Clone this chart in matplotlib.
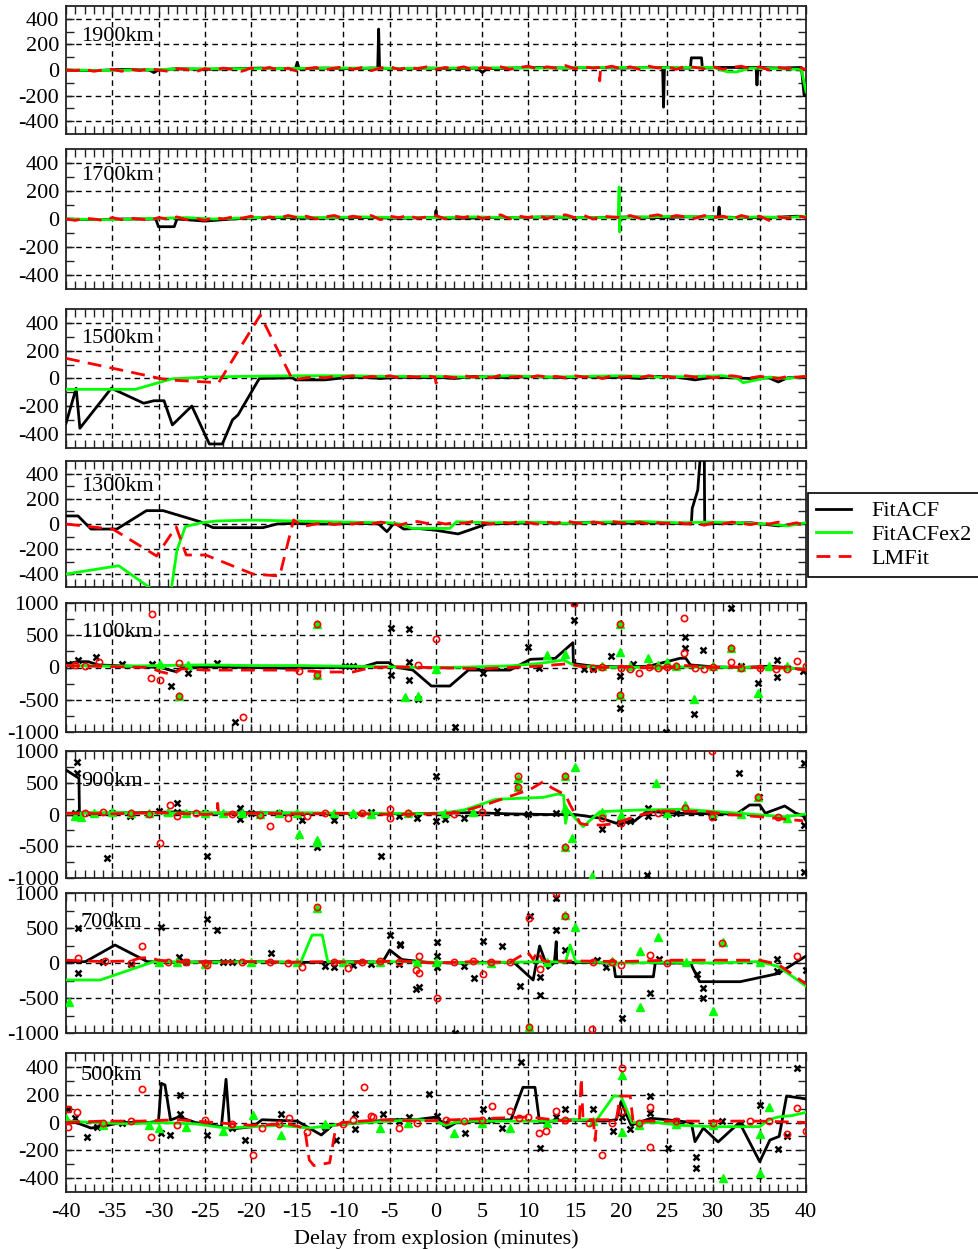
import numpy as np
import matplotlib
matplotlib.use("Agg")
import matplotlib.pyplot as plt
from matplotlib.lines import Line2D

plt.rcParams['font.family'] = ['Liberation Serif', 'DejaVu Serif']
plt.rcParams['axes.unicode_minus'] = False

# ---------------- data ----------------
RANGES = ["1900km", "1700km", "1500km", "1300km", "1100km", "900km", "700km", "500km"]
YLIMS = [500, 500, 500, 500, 1000, 1000, 1000, 500]
XTICKS = [-40, -35, -30, -25, -20, -15, -10, -5, 0, 5, 10, 15, 20, 25, 30, 35, 40]

# 1900 km
ACF1_X = [-40, -37, -34, -31, -30.5, -30, -28, -25, -22, -19, -16, -15.2, -15, -14.8, -12, -9, -7, -6.3, -6.2, -6.1, -4, -1, 2, 4.5, 5, 5.5, 8, 11, 14, 17, 20, 23, 24.5, 24.6, 24.7, 26, 27.5, 27.6, 28.7, 28.8, 31, 34.6, 34.7, 34.8, 37, 39.5, 39.8, 40]
ACF1_Y = [0, -5, 5, 0, -20, 0, 10, 5, 10, 15, 10, 10, 60, 10, 15, 10, 15, 15, 320, 15, 10, 15, 10, 15, -20, 10, 15, 20, 15, 20, 15, 20, 20, -290, 20, 15, 15, 95, 95, 15, 20, 20, -117, 20, 15, 20, -200, -200]
EX1_X = [-40, -36, -32, -28, -24, -20, -16, -12, -8, -4, 0, 4, 8, 12, 16, 20, 24, 28, 30, 31.5, 32.5, 34, 37, 39.5, 40]
EX1_Y = [0, -3, 0, 8, 10, 10, 12, 15, 15, 12, 15, 15, 18, 15, 20, 20, 18, 20, 20, -15, -15, 15, 10, 5, -170]
LM1_X = [-40, -39, -38, -37, -36, -35, -34, -33, -32, -31, -30, -29, -28, -27, -26, -25, -24, -23, -22, -21, -20, -19, -18, -17, -16, -15, -14, -13, -12, -11, -10, -9, -8, -7, -6, -5, -4, -3, -2, -1, 0, 1, 2, 3, 4, 5, 6, 7, 8, 9, 10, 11, 12, 13, 14, 15, 16, 17, 17.6, 17.7, 17.8, 18, 19, 20, 21, 22, 23, 24, 25, 26, 27, 28, 29, 30, 31, 32, 33, 34, 35, 36, 37, 38, 39, 40]
LM1_Y = [0, -5, 5, -10, 0, 5, -10, 5, -5, 10, 0, -10, 10, 5, -15, 10, 0, 15, 5, -10, 15, 5, 20, 0, 15, -10, 10, 20, 0, 15, 25, 5, 20, -5, 15, 25, 5, 20, 10, 25, 5, 20, 10, 25, 0, 20, 10, 25, 5, 20, 30, 5, 25, 15, 35, 10, 25, 15, 20, -85, 20, 15, 30, 10, 25, 5, 30, 15, 25, 5, 30, 20, 10, 25, 5, 20, 30, 10, 25, 0, 20, 10, 25, 5]

# 1700 km
ACF2_X = [-40, -37, -34, -31, -30.3, -30, -28.3, -28, -26, -25, -24, -22, -19, -16, -13, -10, -7, -4, -1, -0.1, 0, 0.1, 3, 6, 9, 12, 15, 18, 21, 24, 27, 30.5, 30.6, 30.7, 33, 36, 39, 40]
ACF2_Y = [0, -5, 0, 0, 0, -55, -55, 0, -10, -15, -10, 0, 10, 10, 5, 10, 10, 5, 10, 10, 60, 10, 5, 10, 10, 15, 10, 10, 15, 10, 15, 15, 85, 15, 10, 10, 20, 15]
EX2_X = [-40, -35, -30, -27, -24, -20, -16, -12, -8, -4, 0, 4, 8, 12, 16, 19.7, 19.8, 19.85, 19.9, 23, 26, 29, 32, 35, 38, 40]
EX2_Y = [0, -5, 5, 10, 0, 10, 15, 10, 15, 10, 10, 15, 10, 15, 10, 10, 228, -93, 10, 15, 20, 15, 10, 15, 10, 20]
LM2_X = [-40, -39, -38, -37, -36, -35, -34, -33, -32, -31, -30, -29, -28, -27, -26, -25, -24, -23, -22, -21, -20, -19, -18, -17, -16, -15, -14, -13, -12, -11, -10, -9, -8, -7, -6, -5, -4, -3, -2, -1, 0, 1, 2, 3, 4, 5, 6, 7, 8, 9, 10, 11, 12, 13, 14, 15, 16, 17, 18, 19, 20, 21, 22, 23, 24, 25, 26, 27, 28, 29, 30, 31, 32, 33, 34, 35, 36, 37, 38, 39, 40]
LM2_Y = [0, -10, 5, 0, -10, 10, -5, 5, 0, -10, 10, 0, 15, -5, 5, -10, 10, 0, 15, 5, 20, 0, 15, 5, 25, 10, 20, 0, 15, 25, 5, 20, 10, 25, -5, 20, 10, 25, 5, 15, 25, 0, 20, 10, 25, 5, 15, 30, 0, 20, 10, 25, 5, 20, 30, 10, 25, 0, 20, 15, 10, 25, 5, 20, 30, 10, 25, 15, 5, 25, 10, 20, 0, 25, 10, 20, -10, 15, 5, 25, 10]

# 1500 km
ACF3_X = [-40, -38.9, -38.5, -35.1, -31.6, -30.5, -29.4, -28.5, -26.4, -24.5, -23.1, -22.0, -21.4, -19.1, -15.5, -15.2, -12, -10, -8, -6, -4, -2, 0, 2, 4, 6, 8, 10, 12, 14, 16, 18, 20, 22, 24, 26, 28, 30, 32, 34, 36, 37, 38, 40]
ACF3_Y = [-322, -70, -358, -70, -178, -160, -160, -334, -198, -471, -471, -298, -262, 0, 5, -10, -10, 5, 10, 0, 10, 5, 10, 0, 15, 10, 5, 15, 10, 5, 15, 5, 10, 0, 15, 10, -10, 10, 5, 0, 5, -25, 5, 10]
EX3_X = [-40, -32.5, -28.6, -25, -21, -15, -10, -5, 0, 4, 8, 12, 16, 20, 24, 28, 31, 32.5, 33.2, 34, 36, 38, 40]
EX3_Y = [-78, -78, -3, 10, 15, 20, 20, 15, 15, 10, 20, 10, 15, 20, 10, 15, 20, 5, -30, -20, 10, 0, 15]
LM3_X = [-40, -34.9, -29.8, -28.5, -23.5, -19.0, -15.5, -14, -13, -12, -11, -10, -9, -8, -7, -6, -5, -4, -3, -2, -1, -0.1, 0, 0.5, 1, 2, 3, 4, 5, 6, 7, 8, 9, 10, 11, 12, 13, 14, 15, 16, 17, 18, 19, 20, 21, 22, 23, 24, 25, 26, 27, 28, 29, 30, 31, 32, 33, 34, 35, 36, 37, 38, 39, 40]
LM3_Y = [145, 73, 0, -12, -30, 456, -10, 5, 10, 5, 15, 10, 20, 5, 15, 10, 20, 5, 15, 10, 20, 10, -33, 5, 15, 5, 20, 10, 15, 5, 25, 10, 15, 5, 20, 10, 15, 5, 20, 10, 15, 0, 20, 10, 15, 5, 20, 10, 15, 5, 20, 10, 15, 5, 15, 20, 10, 5, 15, 10, 0, 15, 10, 15]

# 1300 km
ACF4_X = [-40, -38.7, -37.3, -34.5, -31.3, -29.5, -25.5, -24.1, -18.7, -17.2, -15.4, -12, -8, -6.2, -5.3, -4.5, -3.5, -2, 0, 2.4, 5.5, 8, 11, 14, 17, 20, 23, 26, 27.6, 27.7, 28.3, 28.6, 29.0, 29.05, 31, 34, 37, 40]
ACF4_Y = [64, 64, -40, -40, 106, 106, 18, -29, -29, 0, 5, 0, 5, 0, -61, 10, -40, -35, -50, -79, 0, 5, 10, 5, 15, 5, 10, 5, 0, 124, 270, 560, 560, 0, 5, 10, -15, 5]
EX4_X = [-40, -34.3, -29.9, -28.7, -28.0, -27.1, -25.5, -23.7, -19.8, -15.4, -10, -5, -3.9, -2.6, 1.5, 2.2, 6, 10, 14, 18, 22, 26, 30, 34, 36, 38, 40]
EX4_Y = [-397, -331, -560, -560, -206, -21, 8, 24, 31, 24, 15, 10, 0, -35, -35, 18, 10, 15, 5, 15, 20, 10, 15, 5, 0, -15, 10]
LM4_X = [-40, -34.9, -30.2, -28.1, -27, -24.9, -19.8, -16.9, -15.4, -14.4, -13, -12, -11, -10, -9, -8, -7, -6, -5, -4, -3, -2, -1, 0, 1, 2, 3, 4, 5, 6, 7, 8, 9, 10, 11, 12, 13, 14, 15, 16, 17, 18, 19, 20, 21, 22, 23, 24, 25, 26, 27, 28, 29, 30, 31, 32, 33, 34, 35, 36, 37, 38, 39, 40]
LM4_Y = [0, -42, -254, -21, -246, -246, -397, -413, 32, -20, 0, 10, -5, 5, 0, 10, 0, 15, 5, -10, 10, 20, 5, 15, 0, 10, 5, 20, 10, 0, 15, 5, 20, 10, 0, 15, 5, 25, 10, 0, 15, 5, 20, 10, 5, 15, 0, 10, 5, 15, 0, 10, -10, 10, 0, 15, 5, -5, 10, 0, 15, -5, 10, -20]

# 1100 km
ACF5_X = [-40, -38.8, -37.6, -36.5, -33, -29.8, -28.1, -27.4, -24, -20, -16, -12, -8, -6.4, -5.1, -4.5, -2.5, -0.5, 1.5, 3.5, 8, 10.2, 12.9, 14.8, 14.85, 17, 20, 23, 26.4, 27, 27.5, 30, 33, 36, 38, 40]
ACF5_Y = [50, 90, 90, 40, 20, 0, -65, 0, 10, 0, -10, 0, 5, 75, 75, 10, -40, -287, -287, -40, -40, 127, 143, 384, 60, 20, 10, 20, 143, 143, 40, 10, 0, 20, 0, -40]
EX5_X = [-40, -35, -30, -25, -20, -15, -10, -5, -0.5, 3, 8, 11, 13.8, 15, 17, 20, 25, 30, 35, 40]
EX5_Y = [30, 20, 30, 40, 30, 30, 20, 10, 0, 5, 25, 60, 116, 30, 10, 0, 10, 5, 0, -20]
LM5_X = [-40, -37, -34, -31, -29.8, -28.5, -27.5, -25, -20, -15.5, -12, -9, -7, -4, -1, 2, 5, 8, 11, 14.4, 15.5, 18, 21, 24, 27, 30, 33, 36, 38, 40]
LM5_Y = [30, 20, 10, 0, -65, -110, -20, -40, -40, -40, -70, -70, 0, 10, 0, -10, -20, 0, 20, 60, 20, 0, 10, -10, 30, 0, 10, -10, 0, -40]
ACF5_MX = [-39.8, -38.7, -36.8, -34, -30.7, -28.7, -26.8, -23.7, -21.7, -9.8, -9, -4.9, -4.9, -2.9, -2.9, -2.9, -1.9, 2.1, 5.1, 10, 11.1, 14.9, 14.9, 16, 17, 18.9, 19.9, 19.9, 21.3, 24.9, 26.9, 26.9, 27.9, 28.9, 31.9, 33, 34.8, 36.9, 36.9, 38, 39.7]
ACF5_MY = [60, 116, 167, 50, 54, -287, -90, 65, -840, 23, 23, 607, -116, 592, 80, -194, -493, -918, -90, 313, -13, 736, 1000, -20, -20, 178, -132, -633, 60, -995, 478, 297, -721, 271, 917, 30, -235, -150, 120, 0, -60]
EX5_MX = [-29.8, -27.8, -26.8, -12.9, -12.9, -3.4, -1.9, 0, 12, 14, 18, 19.9, 19.9, 19.9, 21, 22.9, 24, 25, 26, 27.9, 30, 31.9, 33, 34.8, 36, 38]
EX5_MY = [60, -442, 35, 674, -110, -465, -442, -28, 194, 210, 20, 242, 674, -426, 30, 145, 40, 80, 30, -493, 20, 297, 10, -395, 20, 30]
LM5_MX = [-39, -38, -36.4, -30.7, -30.8, -29.8, -27.8, -27.8, -20.9, -14.8, -12.9, -12.9, -1.9, 0, 14.9, 17, 18, 19.9, 19.9, 20, 21, 22, 23, 24, 25, 26, 26.8, 26.8, 28, 29, 30, 31.9, 31.9, 33, 35, 36.8, 38, 39, 40]
LM5_MY = [40, 20, 80, 829, -158, -189, 75, -442, -772, -60, 674, -110, 40, 437, 1000, 0, 10, 674, -426, 0, -20, -90, 10, -10, 10, 20, 762, 229, 0, -20, 10, 297, 90, -10, 0, -30, -20, 100, 20]

# 900 km
ACF6_X = [-40, -38.6, -38.55, -36, -32, -28, -24, -20, -16, -12, -8, -4, 0, 4, 8, 12, 15, 17.9, 19.5, 21.4, 22.8, 26, 30, 32.5, 33.9, 35, 35.6, 37.7, 38.9, 39.7, 40]
ACF6_Y = [701, 570, 28, 20, 30, 40, 20, 30, 20, 10, 20, 10, 20, 30, 10, 0, 0, -60, -139, -110, 50, 20, 10, 10, 150, 150, 20, 134, 20, -20, -100]
EX6_X = [-40, -35, -30, -25, -20, -15, -10, -5, 0, 3, 6.5, 11.6, 13.2, 13.8, 14.0, 14.3, 15.9, 17.7, 21.7, 26.7, 32, 37.7, 39.7, 40]
EX6_Y = [20, 30, 20, 30, 20, 30, 20, 20, 10, 70, 240, 270, 323, 300, -139, 60, -192, 44, 70, 82, 28, -35, 0, 10]
LM6_X = [-40, -35, -30, -25, -23.7, -23.6, -23.5, -20, -15, -10, -5, 0, 2.5, 5.8, 10.2, 11.6, 12.5, 14, 14.5, 15.6, 16.1, 17.9, 19.5, 21.7, 24, 29.2, 31.6, 35, 39.7]
LM6_Y = [20, 10, 30, 0, 10, 176, 0, 20, 10, 20, 0, 10, 30, 176, 397, 517, 422, 307, 150, -139, -157, -168, -139, -20, 55, 45, 0, -35, -100]
ACF6_MX = [-39, -38.8, -38.8, -35.6, -35, -33.1, -30, -28, -28, -25, -24.8, -21.2, -21.2, -20, -17, -14.5, -12.9, -11, -9, -7, -5.9, -4, -2, 0, 0, 1, 3, 6.6, 10, 13, 17.9, 19.9, 21, 22.8, 22.9, 22.9, 24.9, 26, 30, 32.8, 34.9, 39.8, 39.8, 39.8]
ACF6_MY = [20, 832, 647, -690, 30, -30, 50, 176, 40, 30, -648, 100, -75, 20, 20, -90, -507, -90, 0, 40, -648, -30, -50, 606, -100, -70, -60, 50, 10, 20, -233, -139, -100, -953, 100, -30, 20, 30, -40, 659, 280, 806, -165, -900]
EX6_MX = [-39, -38.4, -37, -35, -33, -31, -29, -27, -25, -23, -21, -19, -17, -15, -14.8, -12.9, -12.9, -11, -9, -7, -3, 1, 4, 8.9, 8.9, 13.9, 13.9, 13.9, 14.7, 15, 16.9, 17.9, 20, 23.8, 25, 26.9, 30, 33, 34.8, 37.9]
EX6_MY = [-20, -40, 30, 40, 20, 30, 40, 20, 30, 20, 30, 10, 20, 30, -307, -401, -440, 20, 20, 10, 20, 30, 40, 570, 433, 606, 97, -507, -375, 753, -968, 44, 0, 500, 20, 150, 30, 10, 280, -60]
LM6_MX = [-38, -36, -33, -31, -29.8, -28.8, -28, -26, -22, -19, -17.9, -16, -14, -12, -8, -5, -5, -3, 2, 5, 8.9, 8.9, 13.9, 13.9, 18, 20, 24, 26.9, 29.8, 29.8, 34.8, 37]
LM6_MY = [30, 40, 20, 10, -444, 150, -30, 20, 10, 0, -181, -60, -20, 30, 30, 80, -50, 20, 10, 40, 606, 433, 606, -507, -50, -130, 20, 97, 1000, -40, 280, -40]

# 700 km
ACF7_X = [-40, -37.9, -34.7, -31.2, -28, -24, -20, -16, -12, -8, -5.8, -5, -3.7, -1, 2, 5, 8.4, 10.5, 11.2, 12.1, 12.8, 13.0, 13.05, 14, 19.2, 19.4, 23.5, 23.7, 27.5, 28.5, 32.9, 37, 40]
ACF7_Y = [19, 19, 257, 19, 10, 20, 20, 10, 10, 20, 10, 186, 50, 10, 0, 10, 10, -243, 243, -76, 10, 305, 30, 10, 0, -196, -196, 0, 0, -267, -267, -150, 100]
EX7_X = [-40, -36.3, -30.5, -25, -20, -15, -14.6, -13.4, -12.3, -11.7, -8, -4, 0, 4, 8, 12, 14, 14.5, 15.1, 20, 25, 30, 35, 37, 40]
EX7_Y = [-243, -243, 19, 10, 20, 10, 19, 400, 400, 19, 10, 20, 10, 0, 10, 20, 10, 257, 20, 0, 10, 0, 20, -50, -330]
LM7_X = [-40, -36, -33, -32, -31, -30, -28, -24, -20, -16, -12, -8, -4, 0, 4, 8, 9.9, 10.5, 11, 11.5, 12, 15, 20, 25, 30, 35, 37, 40]
LM7_Y = [40, 20, 30, 70, 80, 40, 20, 10, 20, 10, 20, 10, 30, 0, 20, 10, 160, 50, 170, 40, 20, 30, 20, 40, 40, 40, -20, -300]
ACF7_MX = [-38.7, -38.7, -36, -33, -29.7, -27.8, -27, -24.8, -23.7, -23, -22, -17.8, -12, -11, -9, -7, -5, -4, -3.9, -3.9, -2.2, -1.8, 0.1, 0.1, 0.1, 2.1, 3, 4.1, 5.1, 7.1, 9.1, 10.2, 11.2, 11.2, 13, 13, 14, 17.4, 18.4, 20.1, 23.1, 24.1, 28.2, 28.9, 28.9, 36.9, 36.9, 40]
ACF7_MY = [496, -138, 20, -10, 510, 90, 10, 624, 471, 10, 10, 138, -40, -60, -30, -20, 400, -20, 271, 260, -367, -348, 295, 100, -50, -995, -40, -219, 314, 243, -329, 671, -195, -457, 471, 924, 186, 50, -50, -791, -424, 60, -150, -362, -505, 60, -120, -100]
EX7_MX = [-39.7, -30, -28, -25, -20, -15, -12.9, -10, -6, -2, 0, 6, 10.1, 12, 14, 15, 19, 22.1, 22.1, 24, 27, 29.9, 31, 35]
EX7_MY = [-552, 10, 20, -10, 20, 10, 780, 10, 20, 20, 10, 0, -910, 20, 690, 510, 30, 176, -624, 367, 10, -686, 300, 20]
LM7_MX = [-38.7, -35.8, -33, -31.8, -29, -27, -25, -24.8, -21, -18, -16, -14.5, -12.9, -11, -9.5, -8, -6, -4, -2.2, -1.8, -1.8, 0.1, 2, 4, 5.1, 6, 8, 10.1, 10.1, 11.2, 13, 14, 16.9, 17, 19, 20, 23.1, 25, 30.9, 39]
LM7_MY = [67, 30, 0, 248, 20, 10, 0, -30, 20, 10, 0, -50, 805, 20, -70, 10, 30, 20, -100, 100, -148, -505, 10, 30, -162, 20, 10, 638, -910, -80, 1000, 671, -948, 20, 10, -30, 114, 0, 281, 100]

# 500 km
ACF8_X = [-40, -38.5, -37.3, -36.2, -34, -31, -30, -29.7, -29.3, -28.7, -27.8, -26, -24, -23.2, -22.7, -22.3, -19.8, -18.8, -15, -12.4, -11.2, -8, -5, -2.2, 0.1, 1.2, 2.2, 5, 8.1, 9.4, 10.7, 11.2, 14, 18.2, 19.5, 20, 21.1, 23.2, 25, 27.6, 28, 28.9, 30.5, 32.8, 35, 36.1, 37.1, 37.9, 40]
ACF8_Y = [18, -10, -40, -30, 0, 0, 10, 282, 270, 18, 40, 0, -20, -30, 311, -48, -30, 20, 10, -90, -20, 0, 20, 20, 40, -40, 0, 10, 20, 253, 253, 0, 20, 10, 20, 150, -20, 30, 20, 0, -138, -40, -140, 0, -282, -126, -100, 190, 170]
EX8_X = [-40, -37, -33, -30, -26, -22.7, -19.8, -17, -13.7, -10, -5, -2, 0, 1, 2, 4, 8, 12, 15, 17.4, 19.2, 20, 21.2, 24, 26.3, 30, 35, 36, 37, 38.5, 40]
EX8_Y = [10, 0, -10, 0, -10, -40, -30, -20, -40, -10, 10, 20, 10, -20, 0, 10, 10, 10, 20, 20, 190, 190, 0, 0, -20, -30, -30, 20, 40, 50, 73]
LM8_X = [-40, -36, -32, -28, -24, -20, -16, -14.2, -13.7, -13.2, -11.5, -11.0, -10.8, -10, -6, -2, 2, 6, 10, 14, 15.5, 15.7, 15.9, 17.0, 17.2, 17.4, 19.5, 19.9, 21.0, 21.3, 25, 30, 35, 40]
LM8_Y = [0, 10, 10, 20, 0, -20, -10, -40, -270, -310, -290, -100, -20, 0, 20, 10, 20, 30, 40, 10, 20, 320, 20, 20, -130, 20, 20, 190, 190, 10, 10, 10, 10, 0]
ACF8_MX = [-39.8, -39, -37.7, -36.7, -34, -29.7, -28.8, -27.7, -27.7, -24.8, -22, -20.7, -16.8, -12, -10.8, -8.8, -8.8, -5.7, -4, -2.9, -0.8, 0.1, 1, 3.1, 5.1, 6, 7.1, 9.2, 11.2, 13, 14, 17, 19.1, 20.1, 21, 23.1, 23.1, 25.1, 26, 28.1, 28.1, 30.9, 33, 35, 37, 37.9, 39]
ACF8_MY = [95, 30, -106, -30, 0, -78, -90, 198, 60, -90, -40, -126, 61, -30, -126, 60, -50, 60, 10, 40, 205, 50, 0, -73, 95, 20, -40, 437, -185, 40, 95, 95, -60, 40, -50, 190, 70, -181, 10, -250, -330, 10, 0, 126, -193, -100, 390]
EX8_MX = [-40, -36, -31, -30, -27, -23, -19.8, -16.8, -12, -6, -3, 2, 5, 8, 12, 17, 20.1, 20.1, 22, 26, 30, 31, 35, 35, 36]
EX8_MY = [30, -20, -20, -40, -30, -60, 54, -90, -10, -40, 0, -73, 0, -40, 0, 10, 341, -66, -20, -10, -20, -401, -365, -80, 114]
LM8_MX = [-39.8, -39.8, -38.8, -36, -33, -31.8, -30.8, -28, -25, -22, -19.8, -18.8, -17, -15.9, -14, -10, -9, -7.8, -7, -6.8, -4, -2, 1.1, 3, 5, 6.1, 8, 9, 10, 11.1, 11.9, 13, 14, 16.5, 18, 19, 20.1, 20.1, 22, 23.1, 23.1, 26, 30, 34, 36, 38, 39, 40]
LM8_MY = [95, -30, 73, 0, 10, 238, -102, -20, 20, -10, -234, -40, -10, 30, -66, -10, 20, 257, 50, 40, -40, 0, 20, 10, 20, 119, 80, 30, 40, -78, -60, 80, 20, 0, -234, 0, 390, 80, 0, 109, -175, 10, 0, 10, 10, -80, 102, -60]

ACF_LINES = [(ACF1_X, ACF1_Y), (ACF2_X, ACF2_Y), (ACF3_X, ACF3_Y), (ACF4_X, ACF4_Y),
             (ACF5_X, ACF5_Y), (ACF6_X, ACF6_Y), (ACF7_X, ACF7_Y), (ACF8_X, ACF8_Y)]
EX_LINES = [(EX1_X, EX1_Y), (EX2_X, EX2_Y), (EX3_X, EX3_Y), (EX4_X, EX4_Y),
            (EX5_X, EX5_Y), (EX6_X, EX6_Y), (EX7_X, EX7_Y), (EX8_X, EX8_Y)]
LM_LINES = [(LM1_X, LM1_Y), (LM2_X, LM2_Y), (LM3_X, LM3_Y), (LM4_X, LM4_Y),
            (LM5_X, LM5_Y), (LM6_X, LM6_Y), (LM7_X, LM7_Y), (LM8_X, LM8_Y)]
ACF_PTS = {4: (ACF5_MX, ACF5_MY), 5: (ACF6_MX, ACF6_MY), 6: (ACF7_MX, ACF7_MY), 7: (ACF8_MX, ACF8_MY)}
EX_PTS = {4: (EX5_MX, EX5_MY), 5: (EX6_MX, EX6_MY), 6: (EX7_MX, EX7_MY), 7: (EX8_MX, EX8_MY)}
LM_PTS = {4: (LM5_MX, LM5_MY), 5: (LM6_MX, LM6_MY), 6: (LM7_MX, LM7_MY), 7: (LM8_MX, LM8_MY)}

# ---------------- layout ----------------
W, H = 979, 1249
PANEL_PX = [(6, 134), (149, 289), (309, 448), (461, 587), (603, 732), (751, 878), (893, 1033), (1053, 1192)]
LABEL_FRAC = [0.76, 0.81, 0.79, 0.80, 0.77, 0.76, 0.79, 0.84]
LEFT_PX, RIGHT_PX = 66, 806
FS = 16
GREEN = '#00ff00'
RED = '#ff0000'

fig = plt.figure(figsize=(W / 100, H / 100), dpi=100)

for i, (top, bot) in enumerate(PANEL_PX):
    ax = fig.add_axes([LEFT_PX / W, 1 - bot / H, (RIGHT_PX - LEFT_PX) / W, (bot - top) / H])
    ym = YLIMS[i]
    ax.set_xlim(-40, 40)
    ax.set_ylim(-ym, ym)
    if ym == 500:
        yt = [-400, -200, 0, 200, 400]
        ymin = [-300, -100, 100, 300]
    else:
        yt = [-1000, -500, 0, 500, 1000]
        ymin = [-750, -250, 250, 750]
    ax.set_yticks(yt)
    ax.set_yticks(ymin, minor=True)
    ax.set_yticklabels([str(v) for v in yt], fontsize=FS)
    ax.set_xticks(XTICKS)
    ax.set_xticks(np.arange(-40, 41, 1), minor=True)
    ax.tick_params(which='both', direction='in', top=True, right=True, width=1.0, color='#222222')
    ax.tick_params(which='major', length=5.5, pad=5)
    ax.tick_params(which='minor', length=5.5)
    if i == len(PANEL_PX) - 1:
        ax.set_xticklabels([str(v) for v in XTICKS], fontsize=FS)
        ax.tick_params(axis='x', which='major', pad=8)
        ax.set_xlabel('Delay from explosion (minutes)', fontsize=FS, labelpad=5)
    else:
        ax.set_xticklabels([])
    for s in ax.spines.values():
        s.set_linewidth(1.3)
        s.set_color('#222222')
    # dashed grid
    for xv in XTICKS[1:-1]:
        ax.axvline(xv, color='black', lw=1.0, ls=(0, (4, 3)), zorder=1)
    for yv in yt:
        if abs(yv) < ym:
            ax.axhline(yv, color='black', lw=1.0, ls=(0, (4, 3)), zorder=1)

    ax.plot(*ACF_LINES[i], color='black', lw=2.0, zorder=3)
    if i in ACF_PTS:
        ax.plot(*ACF_PTS[i], ls='none', marker='x', ms=5, mew=1.8, color='black', zorder=3)
    ax.plot(*EX_LINES[i], color=GREEN, lw=2.0, zorder=4)
    if i in EX_PTS:
        ax.plot(*EX_PTS[i], ls='none', marker='^', ms=6, color=GREEN, mec=GREEN, zorder=4)
    ax.plot(*LM_LINES[i], color=RED, lw=2.0, ls=(0, (5, 3)), zorder=5)
    if i in LM_PTS:
        ax.plot(*LM_PTS[i], ls='none', marker='o', ms=4.5, mew=1.2, mfc='none', mec=RED, zorder=5)

    ax.text(0.02, LABEL_FRAC[i], RANGES[i], transform=ax.transAxes, fontsize=FS,
            ha='left', va='center', zorder=6)

handles = [Line2D([], [], color='black', lw=2.0),
           Line2D([], [], color=GREEN, lw=2.0),
           Line2D([], [], color=RED, lw=2.0, ls=(0, (5, 3)))]
leg = fig.legend(handles, ['FitACF', 'FitACFex2', 'LMFit'], loc='upper left',
                 bbox_to_anchor=(808 / W, 1 - 493 / H), bbox_transform=fig.transFigure,
                 fontsize=FS, frameon=True, fancybox=False, edgecolor='black', framealpha=1,
                 borderaxespad=0, handlelength=1.6, handletextpad=0.9, borderpad=0.35,
                 labelspacing=0.15)
leg.get_frame().set_linewidth(1.2)

fig.savefig('out.png', dpi=100)
